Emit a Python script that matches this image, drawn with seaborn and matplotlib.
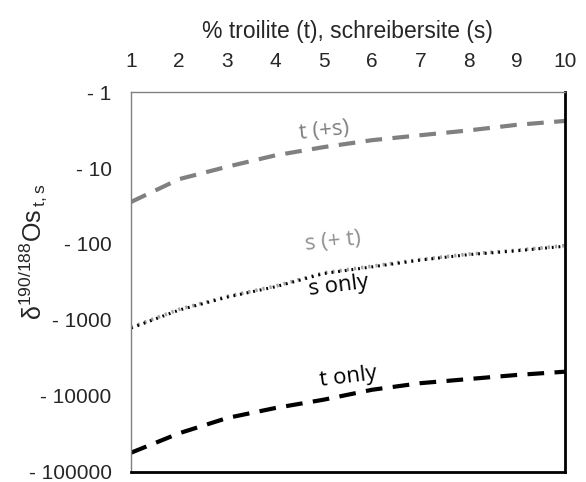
import matplotlib
matplotlib.use("Agg")
import matplotlib.pyplot as plt
import seaborn as sns

# % troilite / schreibersite
pct = [1, 2, 3, 4, 5, 6, 7, 8, 9, 10]

# magnitudes of delta 190/188 Os (plotted as negative values on a log axis)
t_plus_s = [28, 14, 9.6, 6.8, 5.3, 4.3, 3.7, 3.2, 2.7, 2.4]
s_plus_t = [1250, 725, 490, 358, 240, 196, 160, 136, 121, 105]
s_only = [1280, 740, 500, 365, 245, 200, 163, 138, 123, 107]
t_only = [56000, 31000, 19500, 14400, 11200, 8300, 6800, 6000, 5300, 4800]

ytick_vals = [1, 10, 100, 1000, 10000, 100000]
ytick_labels = ["- 1", "- 10", "- 100", "- 1000", "- 10000", "- 100000"]

sns.set_style("white")
plt.rcParams["font.family"] = ["Liberation Sans", "DejaVu Sans"]
plt.rcParams["mathtext.default"] = "regular"

fig = plt.figure(figsize=(5.86, 4.82), dpi=100)
ax = fig.add_axes([0.2235, 0.021, 0.7405, 0.788])

sns.lineplot(x=pct, y=t_plus_s, ax=ax, color="#808080", lw=3, linestyle=(0, (4, 2.5)))
sns.lineplot(x=pct, y=s_plus_t, ax=ax, color="#a0a0a0", lw=2.6, linestyle=(0, (0.6, 1.4)))
sns.lineplot(x=pct, y=s_only, ax=ax, color="black", lw=2.2, linestyle=(0, (0.6, 1.6)))
sns.lineplot(x=pct, y=t_only, ax=ax, color="black", lw=3, linestyle=(0, (4, 2.5)))

ax.set_yscale("log")
ax.set_ylim(100000, 1)
ax.set_xlim(1, 10)
ax.set_yticks(ytick_vals)
ax.set_yticklabels(ytick_labels)
ax.minorticks_off()
ax.set_xticks(pct)
ax.xaxis.tick_top()
ax.xaxis.set_label_position("top")
ax.tick_params(axis="both", length=0, labelsize=15)
ax.tick_params(axis="y", pad=14)
ax.tick_params(axis="x", pad=15)
ax.set_xlabel("% troilite (t), schreibersite (s)", fontsize=16.5, labelpad=10)
ax.set_ylabel(r"δ$^{190/188}$Os$_{\,t,s}$", fontsize=18)
ax.yaxis.set_label_coords(-0.19, 0.58)

for side in ["top", "left"]:
    ax.spines[side].set_color("#808080")
    ax.spines[side].set_linewidth(1)
for side in ["bottom", "right"]:
    ax.spines[side].set_color("black")
    ax.spines[side].set_linewidth(2)

lab_font = ["Open Sans", "DejaVu Sans"]
ax.text(5.0, 3.2, "t (+s)", color="#808080", fontsize=16, ha="center", va="center",
        rotation=6, family=lab_font)
ax.text(5.2, 92, "s (+ t)", color="#909090", fontsize=16, ha="center", va="center",
        rotation=6, family=lab_font)
ax.text(5.3, 360, "s only", color="black", fontsize=16, ha="center", va="center",
        rotation=7, family=lab_font)
ax.text(5.5, 5600, "t only", color="black", fontsize=16, ha="center", va="center",
        rotation=7, family=lab_font)

fig.savefig("out.png", dpi=100)
